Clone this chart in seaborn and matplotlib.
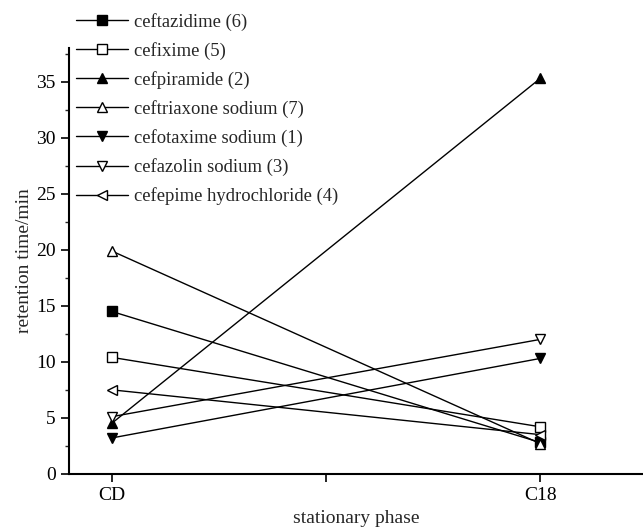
import matplotlib
matplotlib.use('Agg')
import matplotlib.pyplot as plt
import pandas as pd
import seaborn as sns
from matplotlib.ticker import MultipleLocator

# data
phases = ['CD', 'C18']
compounds = ['ceftazidime (6)', 'cefixime (5)', 'cefpiramide (2)',
             'ceftriaxone sodium (7)', 'cefotaxime sodium (1)',
             'cefazolin sodium (3)', 'cefepime hydrochloride (4)']
cd_times = [14.5, 10.4, 4.5, 19.9, 3.2, 5.1, 7.5]
c18_times = [2.8, 4.2, 35.3, 2.7, 10.3, 12.0, 3.5]
markers = ['s', 's', '^', '^', 'v', 'v', '<']
filled = [True, False, True, False, True, False, False]

rows = []
for name, a, b in zip(compounds, cd_times, c18_times):
    rows.append({'compound': name, 'pos': 1, 'time': a})
    rows.append({'compound': name, 'pos': 3, 'time': b})
df = pd.DataFrame(rows)

sns.set_style('ticks')
plt.rcParams['font.family'] = ['Liberation Serif', 'DejaVu Serif']

fig = plt.figure(figsize=(6.43, 5.3), dpi=100)
ax = fig.add_axes([0.107, 0.106, 0.893, 0.803])

for name, m, f in zip(compounds, markers, filled):
    sub = df[df['compound'] == name]
    sns.lineplot(data=sub, x='pos', y='time', ax=ax, color='black', lw=1.0,
                 marker=m, markersize=6.5, markeredgecolor='black',
                 markeredgewidth=1.0, markerfacecolor='black' if f else 'white',
                 label=name, legend=False)

ax.set_xlim(0.8, 3.48)
ax.set_ylim(0, 38)
ax.set_xticks([1, 2, 3])
ax.set_xticklabels(['CD', '', 'C18'])
ax.yaxis.set_major_locator(MultipleLocator(5))
ax.yaxis.set_minor_locator(MultipleLocator(2.5))
ax.tick_params(axis='both', which='major', direction='out', length=6, width=1.2,
               labelsize=14, color='black', labelcolor='black')
ax.tick_params(axis='y', which='minor', direction='out', length=3, width=1.0)
for s in ['top', 'right']:
    ax.spines[s].set_visible(False)
for s in ['left', 'bottom']:
    ax.spines[s].set_linewidth(1.5)
    ax.spines[s].set_color('black')

ax.set_xlabel('stationary phase', fontsize=14)
ax.set_ylabel('retention time/min', fontsize=14, labelpad=2)

handles, labels = ax.get_legend_handles_labels()
fig.legend(handles, labels, loc='upper left', bbox_to_anchor=(0.118, 0.976),
           frameon=False, fontsize=13.4, handlelength=2.8, handletextpad=0.3,
           labelspacing=0.6, borderpad=0, borderaxespad=0)

fig.savefig('out.png', dpi=100)
